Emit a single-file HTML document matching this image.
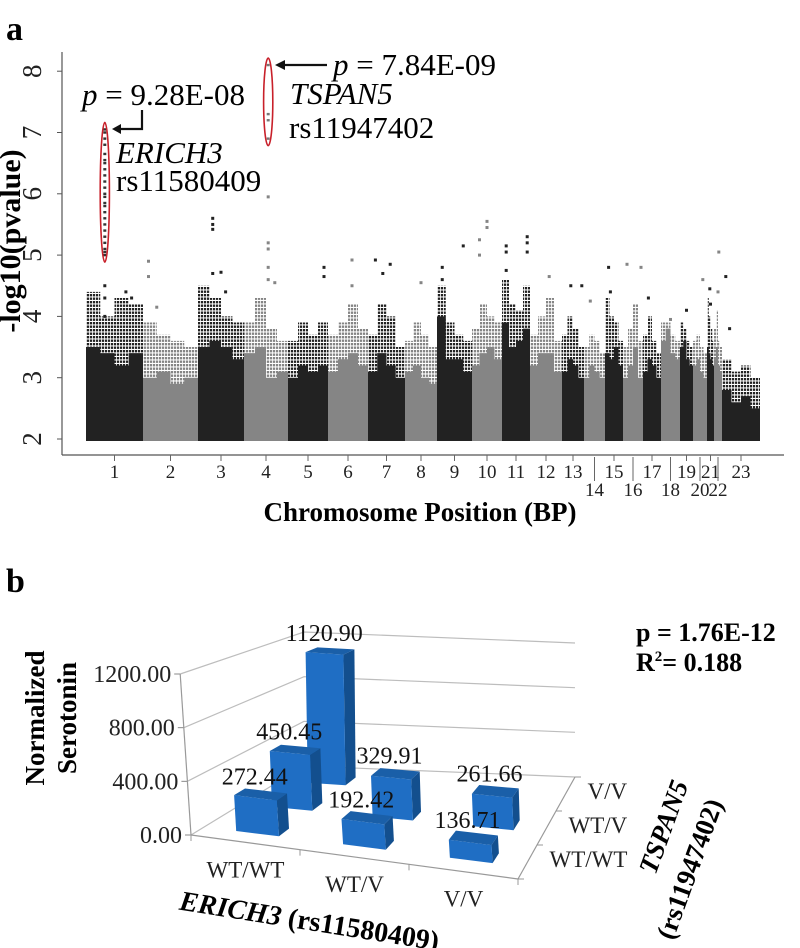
<!DOCTYPE html>
<html><head><meta charset="utf-8"><style>
html,body{margin:0;padding:0;background:#fff;width:800px;height:948px;overflow:hidden}
svg{display:block;font-family:"Liberation Serif",serif}
</style></head><body>
<svg id="fig" width="800" height="948" viewBox="0 0 800 948">
<defs>
<pattern id="dotsDark" width="3" height="3.5" patternUnits="userSpaceOnUse"><rect x="0" y="0" width="2.2" height="2.4" fill="#222"/></pattern>
<pattern id="dotsGray" width="3" height="3.5" patternUnits="userSpaceOnUse"><rect x="0" y="0" width="2.2" height="2.4" fill="#858585"/></pattern>
</defs>
<text x="6" y="40" font-size="34" font-weight="bold">a</text>
<g id="panelA"></g>
<text x="6" y="592" font-size="34" font-weight="bold">b</text>
<g id="panelB"></g>
</svg>
<script>
// ===== Panel a data =====
const chrNames = ["1","2","3","4","5","6","7","8","9","10","11","12","13","14","15","16","17","18","19","20","21","22","23"];
const chrWidths = [57,55,46,44,40,40,37,32,35,30,28,32,22,21,18,20,18,19,13,14,7,8,38];
const denseTop = [[3.5,3.4,3.2,3.4],[3.0,3.1,2.9,3.0],[3.5,3.6,3.5,3.3],[3.4,3.5,3.0,3.1],[3.0,3.2,3.1,3.2],[3.1,3.3,3.4,3.2],[3.1,3.4,3.2,3.0],[3.1,3.2,3.0,2.9],[4.0,3.3,3.3,3.1],[3.2,3.4,3.5,3.3],[3.9,3.5,3.6,3.8],[3.2,3.4,3.4,3.1],[3.1,3.3,3.2,3.0],[3.0,3.2,3.1,3.0],[3.4,3.3,3.5,3.2],[3.0,3.2,3.5,3.0],[3.1,3.3,3.2,3.0],[3.6,3.8,3.4,3.3],[3.5,3.6,3.3,3.2],[3.2,3.3,3.1,3.0],[3.5,3.4,3.3,3.2],[3.3,3.5,3.2,3.1],[2.8,2.6,2.7,2.5]];
const sparseTop = [[4.4,4.0,4.3,4.2],[3.9,3.7,3.6,3.5],[4.5,4.3,4.0,3.9],[3.9,4.3,3.8,3.6],[3.6,3.9,3.7,3.9],[3.7,3.9,4.2,3.8],[3.7,4.2,4.0,3.5],[3.6,3.9,3.7,3.5],[4.5,3.9,3.7,3.6],[3.8,4.2,4.0,3.9],[4.6,4.2,4.1,4.5],[3.7,4.0,4.3,3.6],[3.7,4.0,3.8,3.5],[3.5,3.7,3.6,3.4],[4.3,4.0,3.9,3.6],[3.5,3.8,4.2,3.6],[3.7,4.0,3.6,3.4],[3.9,3.9,3.7,3.6],[3.9,3.8,3.6,3.5],[3.6,3.7,3.5,3.4],[4.3,4.0,3.8,3.6],[3.8,4.1,3.6,3.5],[3.3,3.1,3.2,3.0]];
const outChr = [1,1,1,1,1,2,2,2,3,3,3,3,3,3,4,4,4,4,4,4,5,5,6,6,7,7,7,8,9,9,9,10,10,10,10,11,11,11,11,11,11,12,13,13,14,15,15,16,16,17,18,19,20,21,21,22,22,23,23];
const outFrac = [0.33,0.33,0.33,0.7,0.8,0.1,0.1,0.25,0.32,0.32,0.32,0.32,0.5,0.6,0.55,0.55,0.55,0.55,0.55,0.7,0.9,0.9,0.6,0.6,0.2,0.6,0.4,0.5,0.15,0.15,0.75,0.25,0.25,0.5,0.5,0.15,0.15,0.15,0.9,0.9,0.9,0.6,0.4,0.9,0.3,0.2,0.3,0.2,0.9,0.3,0.5,0.5,0.7,0.4,0.5,0.6,0.5,0.1,0.2];
const outVal = [4.5,4.3,4.0,4.4,4.3,4.9,4.65,4.15,4.7,5.6,5.5,5.42,4.72,4.4,5.95,5.2,5.1,4.8,4.6,4.55,4.8,4.65,4.92,4.5,4.92,4.85,4.7,4.55,4.8,4.6,5.15,5.25,5.0,5.55,5.45,5.15,5.05,4.75,5.3,5.2,5.05,4.65,4.5,4.5,4.25,4.8,4.4,4.85,4.8,4.3,3.95,4.1,4.6,4.45,4.2,5.05,4.4,4.65,3.8];
const hit1Chr = 1, hit1Frac = 0.33;
const hit1Vals = [7.05,7.0,6.9,6.8,6.65,6.55,6.5,6.4,6.3,6.2,6.1,6.0,5.95,5.85,5.8,5.7,5.6,5.5,5.4,5.3,5.2,5.1,5.05,5.0];
const hit2Chr = 4, hit2Frac = 0.55;
const hit2Vals = [8.1,7.3,7.2,6.9];
const yTicksA = [2,3,4,5,6,7,8];

// ===== Panel b data =====
const erichCats = ["WT/WT","WT/V","V/V"];
const tspanCats = ["WT/WT","WT/V","V/V"];
const serotonin = [[272.44,450.45,1120.90],[192.42,329.91,null],[136.71,261.66,null]];
const zTicks = [0,400,800,1200];
const zLabels = ["0.00","400.00","800.00","1200.00"];

const NS = "http://www.w3.org/2000/svg";
function el(parent, tag, attrs, text){
  const e = document.createElementNS(NS, tag);
  for (const k in attrs) e.setAttribute(k, attrs[k]);
  if (text !== undefined) e.textContent = text;
  parent.appendChild(e);
  return e;
}

// ===== Draw panel a =====
(function(){
  const g = document.getElementById('panelA');
  const x0 = 86, x1 = 760;
  const total = chrWidths.reduce((a,b)=>a+b,0);
  const xs = u => x0 + (u/total)*(x1-x0);
  const ys = v => 439 - (v-2)*61.3;
  const starts = []; let acc = 0;
  chrWidths.forEach(w=>{starts.push(acc); acc+=w;});
  const chrX = (c, f) => xs(starts[c-1] + f*chrWidths[c-1]);

  chrNames.forEach((name, i) => {
    const dark = i % 2 === 0;
    const col = dark ? '#222' : '#858585';
    const a = xs(starts[i]), b = xs(starts[i]+chrWidths[i]);
    const n = denseTop[i].length;
    const seg = (b-a)/n;
    let dp = `M${a},${ys(2)+2}`, sp = `M${a},${ys(2)+2}`;
    for (let k=0;k<n;k++){
      dp += ` L${a+k*seg},${ys(denseTop[i][k])} L${a+(k+1)*seg},${ys(denseTop[i][k])}`;
      sp += ` L${a+k*seg},${ys(sparseTop[i][k])} L${a+(k+1)*seg},${ys(sparseTop[i][k])}`;
    }
    dp += ` L${b},${ys(2)+2} Z`; sp += ` L${b},${ys(2)+2} Z`;
    const s = el(g,'path',{d:sp, fill: dark?'url(#dotsDark)':'url(#dotsGray)'});
    
    
    const d = el(g,'path',{d:dp, fill:col});
    
    
  });
  outChr.forEach((c, i) => {
    const col = (c-1)%2===0 ? '#222' : '#858585';
    const r = el(g,'rect',{x:chrX(c,outFrac[i])-1.5, y:ys(outVal[i])-1.5, width:3, height:3, fill:col});
    
    
  });
  function hit(c, f, vals, col){
    const x = chrX(c,f);
    vals.forEach(v=>{
      const r = el(g,'rect',{x:x-1.5,y:ys(v)-1.2,width:3,height:2.4,fill:col});
      
      
    });
    const top = ys(Math.max(...vals))-7, bot = ys(Math.min(...vals))+7;
    const e = el(g,'ellipse',{cx:x, cy:(top+bot)/2, rx:4.6, ry:(bot-top)/2, fill:'none', stroke:'#c8202a', 'stroke-width':1.6});
    
    
  }
  hit(hit1Chr, hit1Frac, hit1Vals, '#333');
  hit(hit2Chr, hit2Frac, hit2Vals, '#777');

  el(g,'line',{x1:62,y1:52,x2:62,y2:455,stroke:'#555','stroke-width':1.2,});
  el(g,'line',{x1:62,y1:455,x2:784,y2:455,stroke:'#555','stroke-width':1.2,});
  yTicksA.forEach(v=>{
    const t = el(g,'line',{x1:57,y1:ys(v),x2:62,y2:ys(v),stroke:'#555'});
    
    
    const l = el(g,'text',{x:0,y:0,'font-size':27,'text-anchor':'middle',transform:`translate(41,${ys(v)}) rotate(-90)`,fill:'#222'}, String(v));
    
    
  });
  el(g,'text',{x:0,y:0,'font-size':30,'font-weight':'bold','text-anchor':'middle',transform:'translate(20,241) rotate(-90)',},'-log10(pvalue)');
  chrNames.forEach((name,i)=>{
    const x = xs(starts[i]+chrWidths[i]/2);
    const low = ["14","16","18","20","22"].includes(name);
    if (low){
      const ln = el(g,'line',{x1:x,y1:457,x2:x,y2:481,stroke:'#666'});
      
      
    } else {
      const tk = el(g,'line',{x1:x,y1:455,x2:x,y2:461,stroke:'#666'});
      
      
    }
    const t = el(g,'text',{x:x,y:low?496:478,'font-size':19,'text-anchor':'middle',fill:'#222'}, name);
    
    
  });
  el(g,'text',{x:420,y:521,'font-size':27,'font-weight':'bold','text-anchor':'middle',},'Chromosome Position (BP)');

  el(g,'text',{x:82,y:105,'font-size':31,}).innerHTML='<tspan font-style="italic">p</tspan> = 9.28E-08';
  el(g,'path',{d:'M142,110 L142,129 L118,129',fill:'none',stroke:'#111','stroke-width':2.2,});
  el(g,'path',{d:'M112,129 L121,124 L121,134 Z',fill:'#111',});
  el(g,'text',{x:116,y:163,'font-size':31,'font-style':'italic',},'ERICH3');
  el(g,'text',{x:116,y:191,'font-size':31,},'rs11580409');
  el(g,'text',{x:333,y:75,'font-size':31,}).innerHTML='<tspan font-style="italic">p</tspan> = 7.84E-09';
  el(g,'line',{x1:327,y1:65,x2:282,y2:65,stroke:'#111','stroke-width':2.2,});
  el(g,'path',{d:'M275,65 L285,60 L285,70 Z',fill:'#111',});
  el(g,'text',{x:290,y:104,'font-size':31,'font-style':'italic',},'TSPAN5');
  el(g,'text',{x:289,y:138,'font-size':31,},'rs11947402');
})();

// ===== Draw panel b =====
(function(){
  const g = document.getElementById('panelB');
  const FL=[191,835], FR=[518,879], BL=[304,766], BR=[575,777];
  function proj(u,v,z){
    const x = FL[0] + u*(FR[0]-FL[0]) + v*(BL[0]-FL[0]) + u*v*(BR[0]-BL[0]-FR[0]+FL[0]);
    const y = FL[1] + u*(FR[1]-FL[1]) + v*(BL[1]-FL[1]) + u*v*(BR[1]-BL[1]-FR[1]+FL[1]);
    const sc = (161 + (134-161)*v)/1200;
    return [x - z*0.009*(1-v), y - z*sc];
  }
  const P = p => p[0].toFixed(1)+','+p[1].toFixed(1);
  zTicks.forEach((z,i)=>{
    const a=proj(0,0,z), b=proj(0,1,z), c=proj(1,1,z);
    const gl = el(g,'polyline',{points:`${P(a)} ${P(b)} ${P(c)}`,fill:'none',stroke:'#bdbdbd','stroke-width':1.2});
    
    
    const tk = el(g,'line',{x1:a[0]-6,y1:a[1],x2:a[0],y2:a[1],stroke:'#888'});
    
    
    const t = el(g,'text',{x:a[0]-9,y:a[1]+8,'font-size':24,'text-anchor':'end',fill:'#222'}, zLabels[i]);
    
    
  });
  const a0=proj(0,0,0), a1=proj(0,0,1200), f1=proj(1,0,0), b1=proj(1,1,0);
  el(g,'line',{x1:a0[0],y1:a0[1],x2:a1[0],y2:a1[1],stroke:'#999','stroke-width':1.2,});
  el(g,'line',{x1:a0[0],y1:a0[1],x2:f1[0],y2:f1[1],stroke:'#999','stroke-width':1.2,});
  el(g,'line',{x1:f1[0],y1:f1[1],x2:b1[0],y2:b1[1],stroke:'#999','stroke-width':1.2,});
  [0,1,2,3].forEach(k=>{
    const p=proj(k/3,0,0);
    const t=el(g,'line',{x1:p[0],y1:p[1],x2:p[0],y2:p[1]+6,stroke:'#999'});
    
    
    const q=proj(1,k/3,0);
    const t2=el(g,'line',{x1:q[0],y1:q[1],x2:q[0]+6,y2:q[1],stroke:'#999'});
    
    
  });
  erichCats.forEach((c,i)=>{
    const p=proj((i+0.5)/3,0,0);
    const t=el(g,'text',{x:p[0],y:p[1]+35,'font-size':23,'text-anchor':'middle',fill:'#222'},c);
    
    
  });
  tspanCats.forEach((c,j)=>{
    const p=proj(1,(j+0.5)/3,0);
    const t=el(g,'text',{x:p[0]+22,y:p[1]+5,'font-size':23,fill:'#222'},c);
    
    
  });
  for (let j=2;j>=0;j--){
    for (let i=0;i<3;i++){
      const h = serotonin[i][j];
      if (h===null) continue;
      const u0=(i+0.3)/3,u1=(i+0.7)/3,v0=(j+0.35)/3,v1=(j+0.65)/3;
      const bg = el(g,'g',{});
      
      
      el(bg,'polygon',{points:[proj(u1,v0,0),proj(u1,v1,0),proj(u1,v1,h),proj(u1,v0,h)].map(P).join(' '),fill:'#134f8e'});
      el(bg,'polygon',{points:[proj(u0,v0,0),proj(u1,v0,0),proj(u1,v0,h),proj(u0,v0,h)].map(P).join(' '),fill:'#1f6ec4'});
      el(bg,'polygon',{points:[proj(u0,v0,h),proj(u1,v0,h),proj(u1,v1,h),proj(u0,v1,h)].map(P).join(' '),fill:'#1a5fa8'});
      const tp = proj((u0+u1)/2,(v0+v1)/2,h);
      const lb = el(g,'text',{x:tp[0]-6,y:tp[1]-10,'font-size':24,'text-anchor':'middle',fill:'#111'}, h.toFixed(2));
      
      
    }
  }
  el(g,'text',{x:0,y:0,'font-size':27,'font-weight':'bold','text-anchor':'middle',transform:'translate(44,718) rotate(-90)',},'Normalized');
  el(g,'text',{x:0,y:0,'font-size':27,'font-weight':'bold','text-anchor':'middle',transform:'translate(76,718) rotate(-90)',},'Serotonin');
  el(g,'text',{x:0,y:0,'font-size':28,'font-weight':'bold','text-anchor':'middle',transform:'translate(308,930) rotate(9)',}).innerHTML='<tspan font-style="italic">ERICH3</tspan> (rs11580409)';
  el(g,'text',{x:0,y:0,'font-size':27,'font-weight':'bold','font-style':'italic','text-anchor':'middle',transform:'translate(672,830) rotate(-70)',},'TSPAN5');
  el(g,'text',{x:0,y:0,'font-size':27,'font-weight':'bold','text-anchor':'middle',transform:'translate(698,872) rotate(-70)',},'(rs11947402)');
  el(g,'text',{x:636,y:641,'font-size':26,'font-weight':'bold',},'p = 1.76E-12');
  el(g,'text',{x:636,y:671,'font-size':26,'font-weight':'bold',}).innerHTML='R<tspan font-size="15" dy="-10">2</tspan><tspan dy="10">= 0.188</tspan>';
})();
</script>
</body></html>
